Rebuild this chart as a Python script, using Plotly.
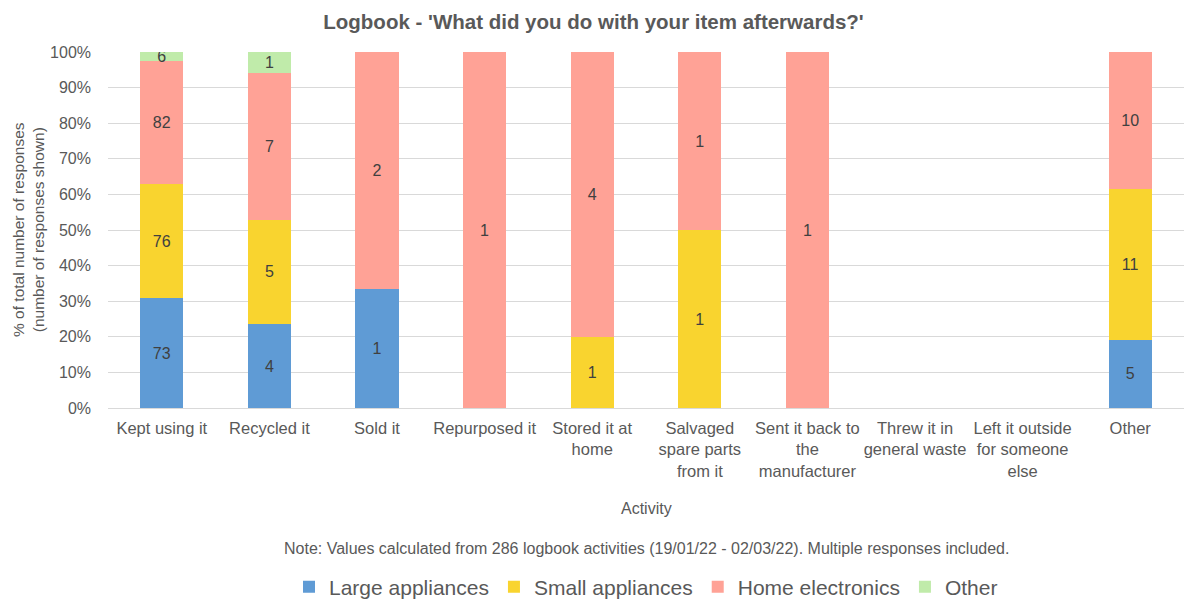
import plotly.graph_objects as go

# Activities (x categories) and response counts per item type
activities = [
    "Kept using it", "Recycled it", "Sold it", "Repurposed it",
    "Stored it at<br>home", "Salvaged<br>spare parts<br>from it",
    "Sent it back to<br>the<br>manufacturer", "Threw it in<br>general waste",
    "Left it outside<br>for someone<br>else", "Other",
]
large_appliances = [73, 4, 1, 0, 0, 0, 0, 0, 0, 5]
small_appliances = [76, 5, 0, 0, 1, 1, 0, 0, 0, 11]
home_electronics = [82, 7, 2, 1, 4, 1, 1, 0, 0, 10]
other_items = [6, 1, 0, 0, 0, 0, 0, 0, 0, 0]

percent_ticks = list(range(0, 101, 10))
percent_labels = [f"{p}%" for p in percent_ticks]

series = [
    ("Large appliances", large_appliances, "#5F9BD5"),
    ("Small appliances", small_appliances, "#F9D42F"),
    ("Home electronics", home_electronics, "#FFA296"),
    ("Other", other_items, "#C0EBAA"),
]

FONT = "Liberation Sans, Arial, Helvetica, sans-serif"
GREY = "#595959"

fig = go.Figure()
for name, vals, color in series:
    ys = [v if v else None for v in vals]
    fig.add_trace(go.Bar(
        name=name,
        x=activities,
        y=ys,
        marker=dict(color=color, line=dict(width=0)),
        text=[str(v) if v else "" for v in vals],
        textposition="inside",
        insidetextanchor="middle",
        constraintext="none",
        textangle=0,
        textfont=dict(family=FONT, size=16, color="#404040"),
        hoverinfo="skip",
    ))

fig.update_layout(
    barmode="stack",
    barnorm="percent",
    bargap=0.6,
    width=1187,
    height=599,
    margin=dict(l=108, r=3, t=52, b=191, autoexpand=False),
    paper_bgcolor="white",
    plot_bgcolor="white",
    font=dict(family=FONT, color=GREY),
    title=dict(
        text="<b>Logbook - 'What did you do with your item afterwards?'</b>",
        x=0.5, xref="container", xanchor="center",
        y=1 - 22 / 599, yref="container", yanchor="middle",
        font=dict(size=20.5, color=GREY, family=FONT),
    ),
    legend=dict(
        orientation="h",
        x=0.5, xanchor="center",
        y=-179 / 356, yanchor="middle",
        font=dict(size=21, color=GREY, family=FONT),
        traceorder="normal",
    ),
    showlegend=True,
)

fig.update_xaxes(
    tickfont=dict(size=16.5, color=GREY),
    showline=True, linecolor="#D9D9D9", linewidth=1,
    showgrid=False, ticks="", ticklabelstandoff=5,
)
fig.update_yaxes(
    range=[0, 100],
    tickvals=percent_ticks,
    ticktext=percent_labels,
    tickfont=dict(size=16, color=GREY),
    showgrid=True, gridcolor="#D9D9D9", gridwidth=1,
    zeroline=False, ticks="", ticklabelstandoff=16,
)

fig.add_annotation(
    text="% of total number of responses<br>(number of responses shown)",
    xref="paper", yref="paper", x=-80 / 1076, y=0.5,
    textangle=-90, showarrow=False,
    font=dict(size=15.5, color=GREY), xanchor="center", yanchor="middle",
)
fig.add_annotation(
    text="Activity", xref="paper", yref="paper", x=0.5, y=-100 / 356,
    showarrow=False, font=dict(size=16, color=GREY), yanchor="middle",
)
fig.add_annotation(
    text="Note: Values calculated from 286 logbook activities (19/01/22 - 02/03/22). Multiple responses included.",
    xref="paper", yref="paper", x=0.5, y=-140 / 356,
    showarrow=False, font=dict(size=16, color=GREY), yanchor="middle",
)

fig.write_html("out.html")
